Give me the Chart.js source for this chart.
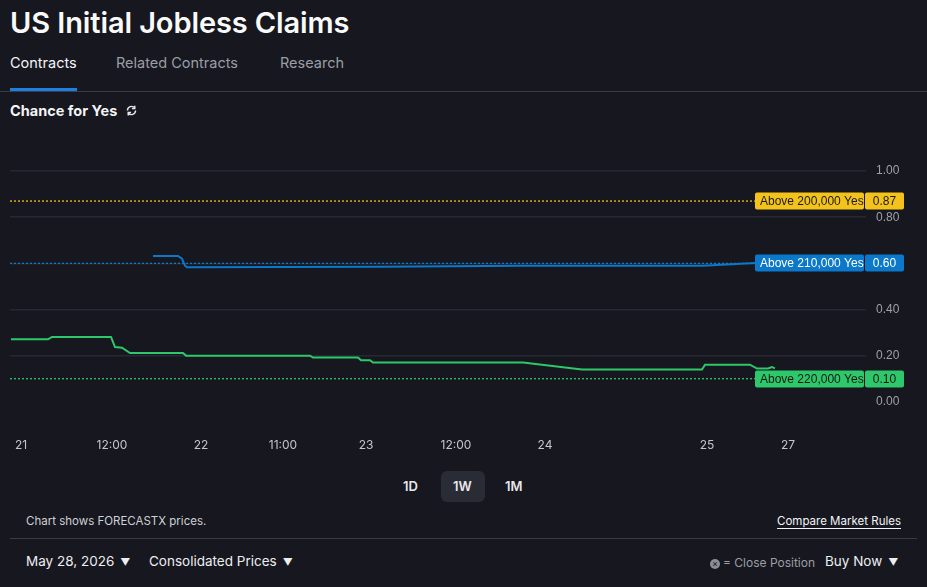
<!DOCTYPE html>
<html>
<head>
<meta charset="utf-8">
<script src="https://cdn.jsdelivr.net/npm/chart.js@4"></script>
<style>
    html, body { margin: 0; padding: 0; }
    body {
        width: 927px; height: 587px; overflow: hidden; position: relative;
        background: #16171f; color: #f2f2f4;
        font-family: Inter, "Noto Sans", sans-serif;
    }
    .abs { position: absolute; white-space: nowrap; }
    .title { left: 10px; top: 5px; font-size: 29px; font-weight: 600; color: #fafafa; letter-spacing: -0.1px; }
    .tab { top: 54px; font-size: 14.5px; color: #9c9ea5; }
    .tab.active { color: #f4f4f6; }
    .tab-bar { left: 10px; top: 88px; width: 67px; height: 3px; background: #1f7fe0; }
    .divider { left: 0; top: 91px; width: 927px; height: 1px; background: #3a3c45; }
    .chance { left: 10px; top: 102px; font-size: 14.5px; font-weight: 700; color: #f4f4f6; }
    #chartWrap { position: absolute; left: 0; top: 140px; width: 927px; height: 320px; }
    .range { top: 478px; font-size: 13px; font-weight: 600; color: #e8e8ea; }
    .range-on { left: 441px; top: 471px; width: 44px; height: 31px; border-radius: 6px; background: #2a2c35; }
    .note { left: 26px; top: 514px; font-size: 11.5px; color: #d0d1d4; }
    .rules { right: 26px; top: 514px; font-size: 11.5px; color: #f4f4f6; text-decoration: underline; text-underline-offset: 3px; }
    .divider2 { left: 10px; top: 538px; width: 907px; height: 1px; background: #3a3c45; }
    .bottom { top: 553px; font-size: 13.5px; color: #eeeef0; }
    .muted { color: #9c9ea5; font-size: 12px; top: 555px; }
    .caret { font-size: 10px; margin-left: 6px; }
    .xicon { display: inline-block; width: 10px; height: 10px; border-radius: 50%; background: #8c8e95; color: #16171f;
             font-size: 9px; line-height: 10px; text-align: center; vertical-align: 0px; margin-right: 3px; }
</style>
</head>
<body>
<div class="abs title">US Initial Jobless Claims</div>
<div class="abs tab active" style="left:10px">Contracts</div>
<div class="abs tab" style="left:116px">Related Contracts</div>
<div class="abs tab" style="left:280px">Research</div>
<div class="abs tab-bar"></div>
<div class="abs divider"></div>
<div class="abs chance">Chance for Yes
    <svg width="13" height="13" viewBox="0 0 16 16" style="margin-left:4px;vertical-align:-1px">
        <path d="M13 8a5 5 0 0 1-9 3M3 8a5 5 0 0 1 9-3" fill="none" stroke="#e8e8ea" stroke-width="1.8"/>
        <path d="M12 2v3.5H8.5M4 14v-3.5h3.5" fill="none" stroke="#e8e8ea" stroke-width="1.8"/>
    </svg>
</div>

<div id="chartWrap"><canvas id="claimsChart"></canvas></div>

<div class="abs range-on"></div>
<div class="abs range" style="left:403px">1D</div>
<div class="abs range" style="left:453px">1W</div>
<div class="abs range" style="left:505px">1M</div>
<div class="abs note">Chart shows FORECASTX prices.</div>
<div class="abs rules">Compare Market Rules</div>
<div class="abs divider2"></div>
<div class="abs bottom" style="left:26px">May 28, 2026<span class="caret">▼</span></div>
<div class="abs bottom" style="left:149px">Consolidated Prices<span class="caret">▼</span></div>
<div class="abs muted" style="left:710px"><span class="xicon">×</span>= Close Position</div>
<div class="abs bottom" style="left:825px">Buy Now<span class="caret">▼</span></div>

<script>
// x positions are session-time units along the chart (gaps between trading days compressed)
const xTickPositions = [11, 102, 191, 273, 356, 446, 535, 697, 778];
const xTickLabels = ['21', '12:00', '22', '11:00', '23', '12:00', '24', '25', '27'];
const yTickValues = [0, 0.2, 0.4, 0.6, 0.8, 1.0];

// Above 220,000 Yes
const greenX = [1, 38, 42, 101, 105, 112, 120, 173, 176, 300, 303, 348, 351, 360, 363, 513, 572, 692, 695, 740, 747, 758, 762, 765];
const greenY = [0.271, 0.271, 0.281, 0.281, 0.237, 0.234, 0.211, 0.211, 0.200, 0.200, 0.192, 0.192, 0.180, 0.180, 0.170, 0.170, 0.140, 0.140, 0.161, 0.161, 0.144, 0.144, 0.150, 0.145];

// Above 210,000 Yes
const blueX = [143, 168, 172, 175, 177, 370, 510, 693, 745];
const blueY = [0.632, 0.632, 0.620, 0.590, 0.583, 0.585, 0.590, 0.590, 0.602];

// current prices shown on the right
const contractNames = ['Above 200,000 Yes', 'Above 210,000 Yes', 'Above 220,000 Yes'];
const contractPrices = [0.87, 0.60, 0.10];
const contractColors = ['#f3c31b', '#0b78c9', '#2fc76b'];
const contractText = ['#1b1b1b', '#ffffff', '#0f1a12'];
const refLineX = [0, 745];

document.addEventListener('DOMContentLoaded', function() {
    const claimsCtx = document.getElementById('claimsChart');

    const toPoints = (xs, ys) => xs.map((x, i) => ({ x: x, y: ys[i] }));

    // dotted reference lines at the current price of each contract
    const refLines = contractPrices.map((p, i) => ({
        data: refLineX.map(x => ({ x: x, y: p })),
        borderColor: contractColors[i],
        borderWidth: 1.3,
        borderDash: [2, 2],
        pointRadius: 0,
        order: 2
    }));

    // price tags on the right side
    const priceTags = {
        id: 'priceTags',
        afterDraw(chart) {
            const c = chart.ctx;
            const xs = chart.scales.x;
            const ys = chart.scales.y;
            c.save();
            c.font = '12px "Liberation Sans", Arial, sans-serif';
            c.textBaseline = 'middle';
            contractNames.forEach((name, i) => {
                const y = Math.round(ys.getPixelForValue(contractPrices[i]));
                const left = xs.getPixelForValue(refLineX[1]);
                const w = 109;
                const h = 17;
                c.fillStyle = contractColors[i];
                c.beginPath();
                c.roundRect(left, y - h / 2, w, h, 2);
                c.fill();
                c.beginPath();
                c.roundRect(left + w + 1, y - h / 2, 39, h, 2);
                c.fill();
                c.fillStyle = contractText[i];
                c.textAlign = 'left';
                c.fillText(name, left + 5, y + 0.5);
                c.textAlign = 'center';
                c.fillText(contractPrices[i].toFixed(2), left + w + 1 + 19.5, y + 0.5);
            });
            c.restore();
        }
    };

    new Chart(claimsCtx, {
        type: 'line',
        data: {
            datasets: [
                {
                    label: 'Above 210,000 Yes',
                    data: toPoints(blueX, blueY),
                    borderColor: '#0b78c9',
                    borderWidth: 2,
                    pointRadius: 0,
                    tension: 0,
                    order: 1
                },
                {
                    label: 'Above 220,000 Yes',
                    data: toPoints(greenX, greenY),
                    borderColor: '#2fc76b',
                    borderWidth: 2,
                    pointRadius: 0,
                    tension: 0,
                    order: 1
                },
                ...refLines
            ]
        },
        options: {
            responsive: true,
            maintainAspectRatio: false,
            animation: false,
            layout: {
                padding: { left: 10, top: 8, right: 0, bottom: 0 }
            },
            plugins: {
                legend: { display: false },
                tooltip: { enabled: false }
            },
            scales: {
                x: {
                    type: 'linear',
                    min: 0,
                    max: 856,
                    grid: { display: false },
                    border: { display: false },
                    afterBuildTicks: function(scale) {
                        scale.ticks = xTickPositions.map(v => ({ value: v }));
                    },
                    afterFit: function(scale) {
                        scale.height = 49;
                        scale.paddingLeft = 0;
                        scale.paddingRight = 0;
                    },
                    ticks: {
                        color: '#c4c6cb',
                        padding: 19,
                        maxRotation: 0,
                        autoSkip: false,
                        font: { size: 12, family: 'Inter, "Noto Sans", sans-serif' },
                        callback: function(value) {
                            const i = xTickPositions.indexOf(value);
                            return i >= 0 ? xTickLabels[i] : '';
                        }
                    }
                },
                y: {
                    position: 'right',
                    min: -0.04,
                    max: 1.1,
                    border: { display: false },
                    grid: {
                        drawTicks: false,
                        color: function(context) {
                            return context.tick && context.tick.value === 0 ? 'rgba(0,0,0,0)' : '#262832';
                        },
                        lineWidth: 1.5
                    },
                    afterBuildTicks: function(scale) {
                        scale.ticks = yTickValues.map(v => ({ value: v }));
                    },
                    afterFit: function(scale) {
                        scale.width = 61;
                        scale.paddingTop = 0;
                        scale.paddingBottom = 0;
                    },
                    ticks: {
                        color: '#9fa1a8',
                        padding: 10,
                        font: { size: 12, family: '"Liberation Sans", Arial, sans-serif' },
                        callback: function(value) {
                            return value.toFixed(2);
                        }
                    }
                }
            }
        },
        plugins: [priceTags]
    });
});
</script>
</body>
</html>
